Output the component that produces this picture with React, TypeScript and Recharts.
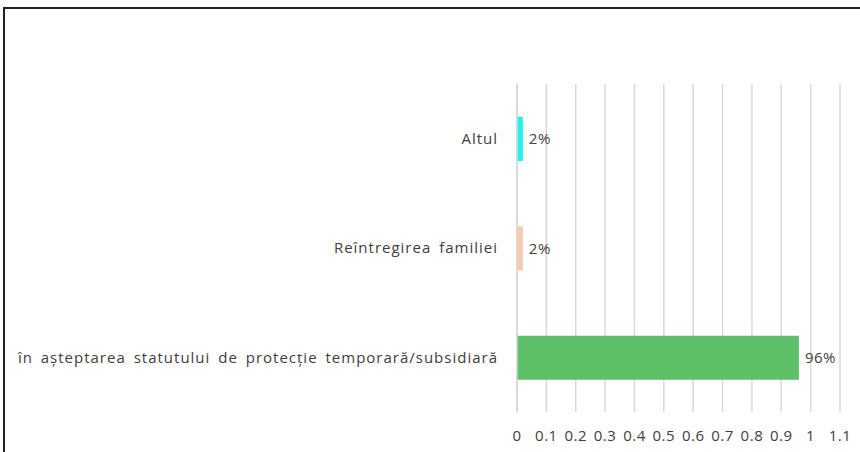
import { BarChart, Bar, XAxis, YAxis, CartesianGrid, LabelList, Cell } from 'recharts'

const categories = [
  'Altul',
  'Reîntregirea familiei',
  'în așteptarea statutului de protecție temporară/subsidiară',
]
const shares = [0.02, 0.02, 0.96]
const barColors = ['#22F2F2', '#F8CBAD', '#5EBF69']
const xTicks = [0, 0.1, 0.2, 0.3, 0.4, 0.5, 0.6, 0.7, 0.8, 0.9, 1, 1.1]

const data = categories.map((name, i) => ({ name, value: shares[i] }))

const font = '"Open Sans", Arial, sans-serif'

export default function App() {
  return (
    <div
      style={{
        position: 'absolute',
        left: 0,
        top: 0,
        width: 860,
        height: 452,
        background: '#fff',
        fontFamily: font,
      }}
    >
      <div
        style={{
          position: 'absolute',
          left: 3,
          top: 7,
          width: 857,
          height: 445,
          borderTop: '2px solid #222',
          borderLeft: '2px solid #222',
          boxSizing: 'border-box',
        }}
      />
      <div style={{ position: 'absolute', left: 0, top: 0 }}>
        <BarChart
          width={860}
          height={452}
          data={data}
          layout="vertical"
          margin={{ top: 84, right: 20, left: 0, bottom: 10 }}
        >
          <CartesianGrid horizontal={false} stroke="#D9D9D9" strokeWidth={1.5} />
          <XAxis
            type="number"
            domain={[0, 1.1]}
            ticks={xTicks}
            interval={0}
            axisLine={false}
            tickLine={false}
            height={30}
            tickMargin={12}
            tick={{ fontSize: 15, fill: '#404040', fontFamily: font, letterSpacing: 0.5 }}
          />
          <YAxis
            type="category"
            dataKey="name"
            width={517}
            axisLine={{ stroke: '#D9D9D9', strokeWidth: 1.5 }}
            tickLine={false}
            tickMargin={13}
            tick={{
              fontSize: 15,
              fill: '#404040',
              fontFamily: font,
              letterSpacing: 1,
              wordSpacing: 3,
            }}
          />
          <Bar dataKey="value" barSize={44} isAnimationActive={false}>
            {data.map((d, i) => (
              <Cell key={d.name} fill={barColors[i]} />
            ))}
            <LabelList
              dataKey="value"
              position="right"
              offset={6}
              fill="#404040"
              fontSize={15}
              fontFamily={font}
              letterSpacing={0.5}
              formatter={(v: number) => `${Math.round(v * 100)}%`}
            />
          </Bar>
        </BarChart>
      </div>
    </div>
  )
}
